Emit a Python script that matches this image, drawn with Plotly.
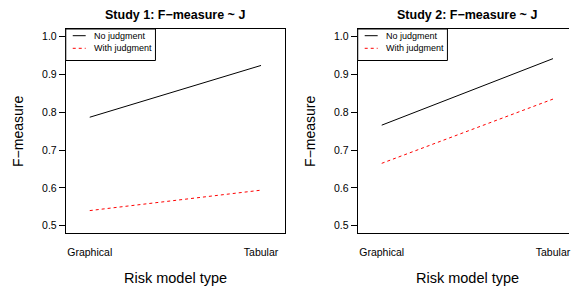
import plotly.graph_objects as go

W, H = 571, 289

categories = ["Graphical", "Tabular"]
cat_pos = [1, 2]
series_names = ["No judgment", "With judgment"]
study1_no_judgment = [0.787, 0.924]
study1_with_judgment = [0.540, 0.594]
study2_no_judgment = [0.766, 0.942]
study2_with_judgment = [0.665, 0.835]
y_ticks = [0.5, 0.6, 0.7, 0.8, 0.9, 1.0]
y_ticklabels = ["0.5", "0.6", "0.7", "0.8", "0.9", "1.0"]
titles = ["Study 1: F\u2212measure ~ J", "Study 2: F\u2212measure ~ J"]
x_title = "Risk model type"
y_title = "F\u2212measure"

FONT = "Liberation Sans, Arial, Helvetica, sans-serif"


def px(x):
    return x / W


def py(y):
    return 1 - y / H


fig = go.Figure()

panels = [
    (study1_no_judgment, study1_with_judgment, "x", "y"),
    (study2_no_judgment, study2_with_judgment, "x2", "y2"),
]
for nj, wj, xa, ya in panels:
    fig.add_trace(go.Scatter(x=cat_pos, y=nj, mode="lines", xaxis=xa, yaxis=ya,
                             line=dict(color="black", width=1), showlegend=False,
                             name=series_names[0]))
    fig.add_trace(go.Scatter(x=cat_pos, y=wj, mode="lines", xaxis=xa, yaxis=ya,
                             line=dict(color="#FF0000", width=1, dash="3px,3px"),
                             showlegend=False, name=series_names[1]))

plot_top, plot_bot = 29, 233
ydom = [py(plot_bot), py(plot_top)]
yrange = [0.4807, 1.0204]
ppu = 220 / 1.28  # pixels per category unit

common_y = dict(range=yrange, tickvals=y_ticks, ticktext=y_ticklabels, ticks="outside",
                ticklen=6, tickwidth=1, tickcolor="black", showgrid=False, zeroline=False,
                showline=True, linecolor="black", linewidth=1,
                tickfont=dict(family=FONT, size=10.5, color="black"))
common_x = dict(tickvals=cat_pos, ticktext=categories, ticks="", showgrid=False,
                zeroline=False, showline=True, linecolor="black", linewidth=1, mirror=True,
                tickfont=dict(family=FONT, size=10.5, color="black"), ticklabelstandoff=9,
                ticklabeloverflow="allow")

left1, right1 = 66, 286
left2 = 359
right2 = W
fig.update_layout(
    width=W, height=H, margin=dict(l=0, r=0, t=0, b=0),
    paper_bgcolor="white", plot_bgcolor="white", showlegend=False,
    xaxis=dict(domain=[px(left1), px(right1)], range=[0.86, 2.14], anchor="y", **common_x),
    yaxis=dict(domain=ydom, anchor="x", mirror=True, **common_y),
    xaxis2=dict(domain=[px(left2), 1.0],
                range=[0.86, 0.86 + (right2 - left2) / ppu], anchor="y2", **common_x),
    yaxis2=dict(domain=ydom, anchor="x2", mirror=False, **common_y),
)

anns = []
shapes = []
for i, (l, r) in enumerate([(left1, right1), (left2, left2 + 220)]):
    cx = (l + r) / 2
    anns.append(dict(x=px(cx), y=py(15), xref="paper", yref="paper", text="<b>%s</b>" % titles[i],
                     showarrow=False, xanchor="center", yanchor="middle",
                     font=dict(family=FONT, size=12.5, color="black")))
    anns.append(dict(x=px(cx), y=py(278), xref="paper", yref="paper", text=x_title,
                     showarrow=False, xanchor="center", yanchor="middle",
                     font=dict(family=FONT, size=14.5, color="black")))
    anns.append(dict(x=px(l - 48), y=py(131), xref="paper", yref="paper", text=y_title,
                     textangle=-90, showarrow=False, xanchor="center", yanchor="middle",
                     font=dict(family=FONT, size=14, color="black")))
    # legend box
    shapes.append(dict(type="rect", xref="paper", yref="paper", x0=px(l), x1=px(l + 90),
                       y0=py(60.5), y1=py(plot_top), line=dict(color="black", width=1),
                       fillcolor="white", layer="above"))
    for j, (name, col, dash, yy) in enumerate([(series_names[0], "black", "solid", 35.7),
                                               (series_names[1], "#FF0000", "3px,3px", 48.3)]):
        shapes.append(dict(type="line", xref="paper", yref="paper", x0=px(l + 7), x1=px(l + 20),
                           y0=py(yy), y1=py(yy), line=dict(color=col, width=1, dash=dash),
                           layer="above"))
        anns.append(dict(x=px(l + 26.5), y=py(yy), xref="paper", yref="paper", text=name,
                         showarrow=False, xanchor="left", yanchor="middle",
                         font=dict(family=FONT, size=9, color="black")))

fig.update_layout(annotations=anns, shapes=shapes)
fig.write_html("out.html", config={"displayModeBar": False},
               post_script="document.body.style.margin='0';document.body.style.overflow='hidden';")
